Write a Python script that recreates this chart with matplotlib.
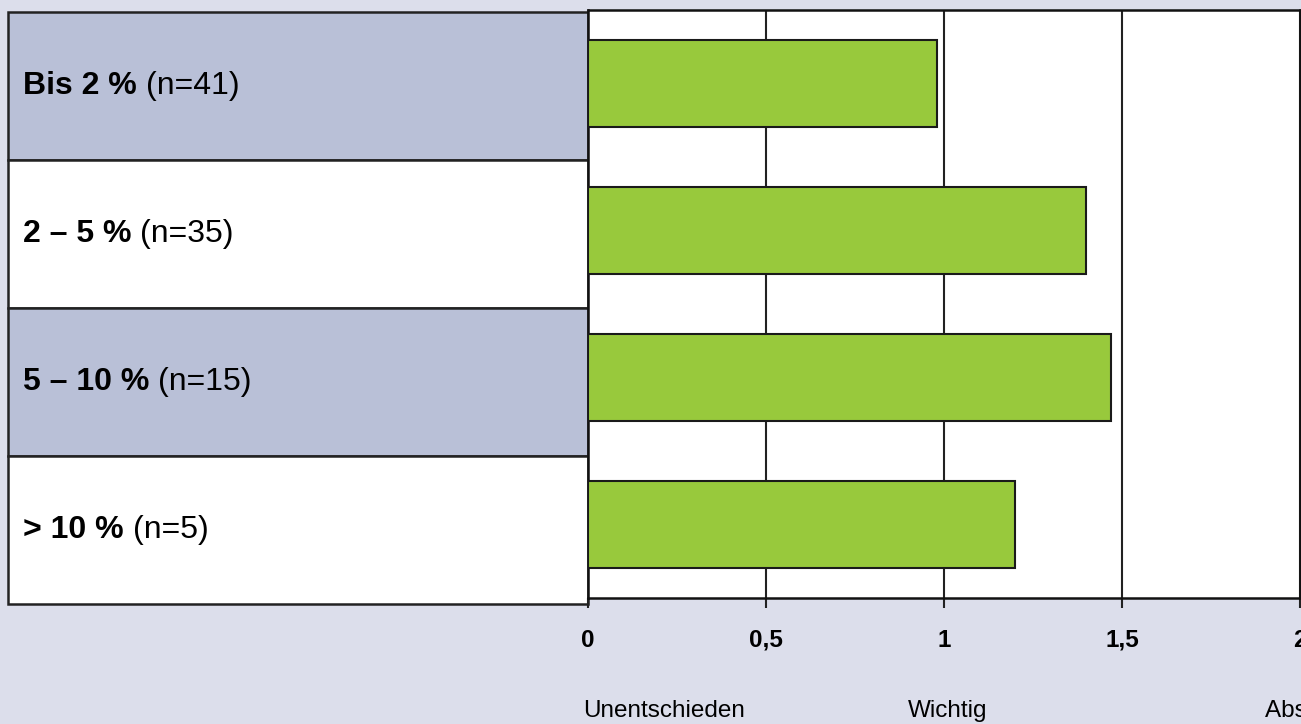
import matplotlib
matplotlib.use("Agg")
import matplotlib.pyplot as plt
from matplotlib.patches import Rectangle

plt.rcParams['font.family'] = ['Liberation Sans', 'DejaVu Sans']

# Data
groups_bold = ["Bis 2 %", "2 – 5 %", "5 – 10 %", "> 10 %"]
groups_n = ["(n=41)", "(n=35)", "(n=15)", "(n=5)"]
values = [0.98, 1.40, 1.47, 1.20]
tick_values = [0, 0.5, 1, 1.5, 2]
tick_labels = ["0", "0,5", "1", "1,5", "2"]
scale_labels = ["Unentschieden", "Wichtig", "Absolut wichtig"]

BG = "#dcdeeb"
SHADE = "#b9c0d7"
GREEN = "#98c93c"

W, H = 1301, 724
fig = plt.figure(figsize=(W / 100, H / 100), dpi=100)
fig.patch.set_facecolor(BG)


def fr(x0, y0, x1, y1):
    """pixel box (top-left origin) -> figure fraction rect"""
    return [x0 / W, 1 - y1 / H, (x1 - x0) / W, (y1 - y0) / H]


# Category table on the left
tab = fig.add_axes(fr(8, 12, 588, 604))
tab.set_xlim(0, 1)
tab.set_ylim(len(groups_bold), 0)
tab.axis("off")
for i, (b, n) in enumerate(zip(groups_bold, groups_n)):
    fc = SHADE if i % 2 == 0 else "white"
    tab.add_patch(Rectangle((0, i), 1, 1, facecolor=fc, edgecolor="#222222",
                            lw=1.8, clip_on=False))
    t = tab.text(0.026, i + 0.5, b + " ", fontsize=23, fontweight="bold",
                 va="center", ha="left", color="black")
    fig.canvas.draw()
    bb = t.get_window_extent()
    x_end = tab.transData.inverted().transform((bb.x1, 0))[0]
    tab.text(x_end, i + 0.5, n, fontsize=23, va="center", ha="left",
             color="black")

# Bar chart on the right
ax = fig.add_axes(fr(588, 10, 1300, 598))
ax.set_facecolor("white")
ypos = list(range(len(values)))
ax.barh(ypos, values, height=0.59, color=GREEN, edgecolor="#1a1a1a",
        lw=1.5, zorder=3)
ax.set_ylim(len(values) - 0.5, -0.5)
ax.set_xlim(0, 2)
ax.set_yticks([])
ax.set_xticks(tick_values)
ax.set_xticklabels(tick_labels, fontsize=17.5, fontweight="bold")
ax.tick_params(axis="x", direction="out", length=7, width=1.5, pad=15,
               color="#222222")
ax.grid(axis="x", color="#222222", lw=1.5, zorder=1)
for s in ax.spines.values():
    s.set_color("#111111")
    s.set_linewidth(1.8)

# Scale descriptions below the axis
for lbl, px in zip(scale_labels, [583, 908, 1265]):
    fig.text(px / W, 1 - 711 / H, lbl, fontsize=17.5, ha="left", va="center",
             color="black")

fig.savefig("out.png", dpi=100, facecolor=BG)
